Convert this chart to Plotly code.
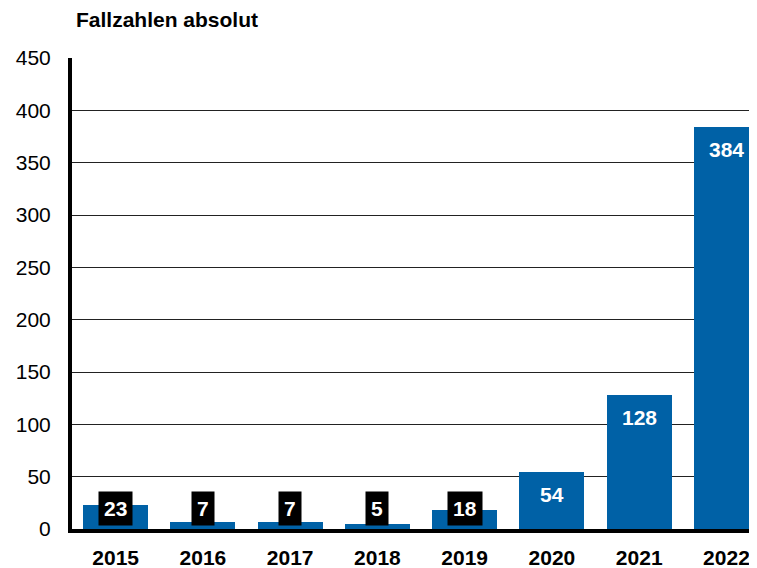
import plotly.graph_objects as go

years = ["2015", "2016", "2017", "2018", "2019", "2020", "2021", "2022"]
values = [23, 7, 7, 5, 18, 54, 128, 384]
y_ticks = [0, 50, 100, 150, 200, 250, 300, 350, 400, 450]
title_text = "Fallzahlen absolut"

BLUE = "#0061A6"
FONT = "Arial, Liberation Sans, sans-serif"

# the page body adds an 8px margin, so the figure is sized to the visible area
W, H = 749, 560
L, R, T, B = 64, 0, 50, 39
plot_w = W - L - R
plot_h = H - T - B

fig = go.Figure()
fig.add_trace(go.Bar(
    x=years, y=values, marker=dict(color=BLUE, line=dict(width=0)),
    width=0.745, hoverinfo="skip",
))

annotations = []
for i, v in enumerate(values):
    if v < 40:
        annotations.append(dict(
            x=i, y=0, xref="x", yref="y", text=f"<b>{v}</b>",
            showarrow=False, yanchor="bottom", yshift=3,
            bgcolor="black", borderpad=5,
            font=dict(family=FONT, size=21, color="white"),
        ))
    else:
        annotations.append(dict(
            x=i, y=v, xref="x", yref="y", text=f"<b>{v}</b>",
            showarrow=False, yanchor="middle", yshift=-22,
            font=dict(family=FONT, size=21, color="white"),
        ))

annotations.append(dict(
    x=(66 - L) / plot_w, y=(H - B - 11) / plot_h, xref="paper", yref="paper",
    text=f"<b>{title_text}</b>", showarrow=False,
    xanchor="left", yanchor="middle",
    font=dict(family=FONT, size=21, color="black"),
))

fig.update_layout(
    width=W, height=H,
    margin=dict(l=L, r=R, t=T, b=B, pad=0, autoexpand=False),
    paper_bgcolor="white", plot_bgcolor="white",
    showlegend=False, bargap=0,
    font=dict(family=FONT, size=21, color="black"),
    xaxis=dict(
        type="category", range=[-0.5, 7.35],
        showgrid=False, showline=True, linecolor="black", linewidth=4,
        ticks="", tickfont=dict(family=FONT, size=21, color="black", weight="bold"),
        ticklabelstandoff=7, fixedrange=True, automargin=False,
    ),
    yaxis=dict(
        range=[0, 450], tickvals=y_ticks, ticktext=[str(t) for t in y_ticks],
        showgrid=True, gridcolor="#222222", gridwidth=1,
        showline=True, linecolor="black", linewidth=4, zeroline=False,
        ticks="", tickfont=dict(family=FONT, size=21, color="black"),
        ticklabelstandoff=13, fixedrange=True, automargin=False,
    ),
    annotations=annotations,
)

fig.write_html("out.html")
